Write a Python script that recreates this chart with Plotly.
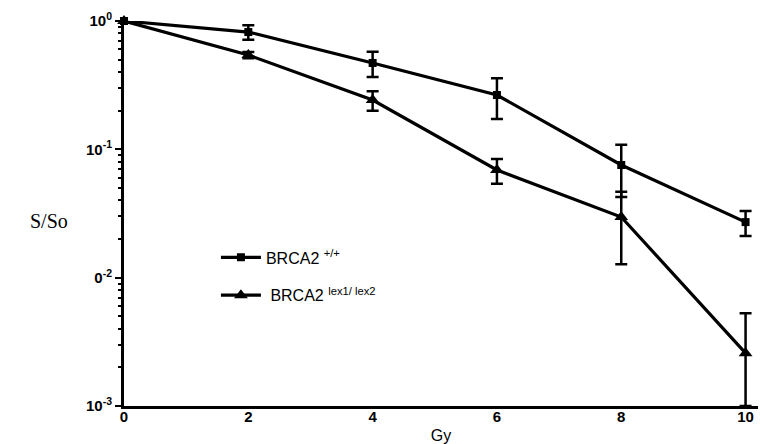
import plotly.graph_objects as go

dose = [0, 2, 4, 6, 8, 10]

wt_name = "BRCA2 <sup>+/+</sup>"
wt_surv = [1.0, 0.82, 0.471, 0.265, 0.0755, 0.0271]
wt_err = [0.0, 0.105, 0.105, 0.093, 0.033, 0.006]

ko_name = " BRCA2 <sup>lex1/ lex2</sup>"
ko_surv = [1.0, 0.543, 0.242, 0.069, 0.0297, 0.00258]
ko_err_plus = [0.0, 0.03, 0.042, 0.015, 0.017, 0.0027]
ko_err_minus = [0.0, 0.03, 0.042, 0.015, 0.017, 0.00158]

y_tickvals = [1, 0.1, 0.01, 0.001]
y_ticktext = ["10<sup>0</sup>", "10<sup>-1</sup>", "0<sup>-2</sup>", "10<sup>-3</sup>"]
x_tickvals = [0, 2, 4, 6, 8, 10]
x_ticktext = ["0", "2", "4", "6", "8", "10"]

fig = go.Figure()
fig.add_trace(go.Scatter(
    x=dose, y=wt_surv, name=wt_name, mode="lines+markers", legendgroup="a",
    line=dict(color="black", width=3.2),
    marker=dict(symbol="square", size=8, color="black"),
    error_y=dict(type="data", array=wt_err, color="black", thickness=2.5, width=6),
    cliponaxis=False,
))
fig.add_trace(go.Scatter(
    x=dose, y=ko_surv, name=ko_name, mode="lines+markers", legendgroup="b",
    line=dict(color="black", width=3.2),
    marker=dict(symbol="triangle-up", size=12, color="black"),
    error_y=dict(type="data", array=ko_err_plus, arrayminus=ko_err_minus,
                 color="black", thickness=2.5, width=6),
    cliponaxis=False,
))

fig.update_layout(
    width=760, height=444,
    margin=dict(l=124, r=2, t=21, b=38, autoexpand=False),
    paper_bgcolor="white", plot_bgcolor="white",
    font=dict(family="Liberation Sans, Arial, sans-serif", color="black"),
    showlegend=True,
    legend=dict(x=0.145, y=0.43, xanchor="left", yanchor="top",
                bgcolor="rgba(0,0,0,0)", font=dict(size=16),
                tracegroupgap=14, itemwidth=40),
    xaxis=dict(range=[0, 10.2], tickvals=x_tickvals, ticktext=x_ticktext,
               automargin=False,
               showgrid=False, zeroline=False, showline=True, linecolor="black",
               linewidth=3, ticks="", ticklen=0, ticklabelstandoff=-5,
               tickfont=dict(size=15, weight=700),
               title=dict(text="Gy", font=dict(size=16), standoff=6)),
    yaxis=dict(type="log", range=[-3, 0], tickvals=y_tickvals, ticktext=y_ticktext,
               automargin=False,
               showgrid=False, zeroline=False, showline=True, linecolor="black",
               linewidth=3, ticks="outside", ticklen=6, tickwidth=2, tickcolor="black",
               tickfont=dict(size=15, weight=700),
               minor=dict(ticks="outside", ticklen=3, tickwidth=2, tickcolor="black",
                          dtick="D1", showgrid=False)),
    annotations=[dict(text="S/So", xref="paper", yref="paper", x=-0.119, y=0.48,
                      xanchor="center", yanchor="middle", showarrow=False,
                      font=dict(family="Liberation Serif, Times New Roman, serif", size=20))],
)

fig.write_html("out.html", config={"displayModeBar": False},
               post_script="document.body.style.margin='0';document.body.style.padding='0';")
